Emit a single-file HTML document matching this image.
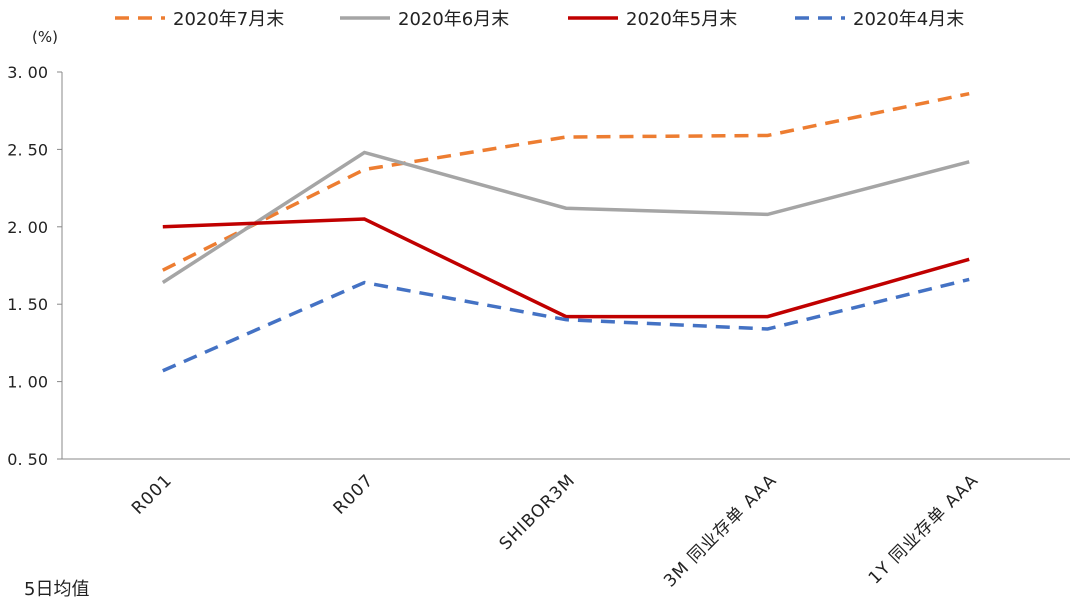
<!DOCTYPE html>
<html><head><meta charset="utf-8"><style>
body{margin:0;background:#fff;}
svg text{font-family:"DejaVu Sans","Noto Sans CJK SC",sans-serif;fill:#222;}
</style></head><body>
<svg width="1080" height="602">
<g id="legend"></g>
<text x="32" y="42" font-size="15">(%)</text>
<g id="axes"></g><g id="series"></g>
<text x="24" y="595" font-size="18">5日均值</text>
</svg>
<script>
const categories=["R001","R007","SHIBOR3M","3M 同业存单 AAA","1Y 同业存单 AAA"];
const seriesNames=["2020年7月末","2020年6月末","2020年5月末","2020年4月末"];
const jul=[1.72,2.37,2.58,2.59,2.86];
const jun=[1.64,2.48,2.12,2.08,2.42];
const may=[2.00,2.05,1.42,1.42,1.79];
const apr=[1.07,1.64,1.40,1.34,1.66];
const yTicks=[0.5,1.0,1.5,2.0,2.5,3.0];
const NS="http://www.w3.org/2000/svg";
const x0=62,x1=1070,yTop=72,yBot=459,yMin=0.5,yMax=3.0;
const band=(x1-x0)/categories.length;
const xS=i=>x0+band*(i+0.5);
const yS=v=>yBot-(v-yMin)/(yMax-yMin)*(yBot-yTop);
function mk(t,a,p){const e=document.createElementNS(NS,t);for(const k in a)e.setAttribute(k,a[k]);p.appendChild(e);return e;}
const ax=document.getElementById('axes');
const yl=mk('line',{x1:x0,y1:yTop,x2:x0,y2:yBot,stroke:'#888'},ax);


const xl=mk('line',{x1:x0,y1:yBot,x2:x1,y2:yBot,stroke:'#888'},ax);


yTicks.forEach(v=>{
 mk('line',{x1:x0-5,y1:yS(v),x2:x0,y2:yS(v),stroke:'#888'},ax);
 const t=mk('text',{x:x0-14,y:yS(v)+6,'text-anchor':'end','font-size':16},ax);
 t.textContent=v.toFixed(2).replace('.','. ');
 
 
});
categories.forEach((c,i)=>{
 const x=xS(i)+10,y=yBot+22;
 const t=mk('text',{x:x,y:y,'text-anchor':'end','font-size':17,'letter-spacing':1,transform:`rotate(-45 ${x} ${y})`},ax);
 t.textContent=c;
 
 
});
const styles=[{d:jul,c:'#ED7D31',dash:'14 9'},{d:jun,c:'#A5A5A5',dash:''},{d:may,c:'#C00000',dash:''},{d:apr,c:'#4472C4',dash:'14 9'}];
const sg=document.getElementById('series');
const lg=document.getElementById('legend');
const lx=[115,340,568,795];
styles.forEach((s,k)=>{
 const p=mk('polyline',{points:s.d.map((v,i)=>xS(i)+','+yS(v)).join(' '),fill:'none',stroke:s.c,'stroke-width':3.5,'stroke-dasharray':s.dash},sg);
 
 
 const l=mk('line',{x1:lx[k],y1:18,x2:lx[k]+50,y2:18,stroke:s.c,'stroke-width':3.5,'stroke-dasharray':s.dash},lg);
 
 
 const t=mk('text',{x:lx[k]+58,y:25,'font-size':18},lg);
 t.textContent=seriesNames[k];
 
 
});
</script>
</body></html>
